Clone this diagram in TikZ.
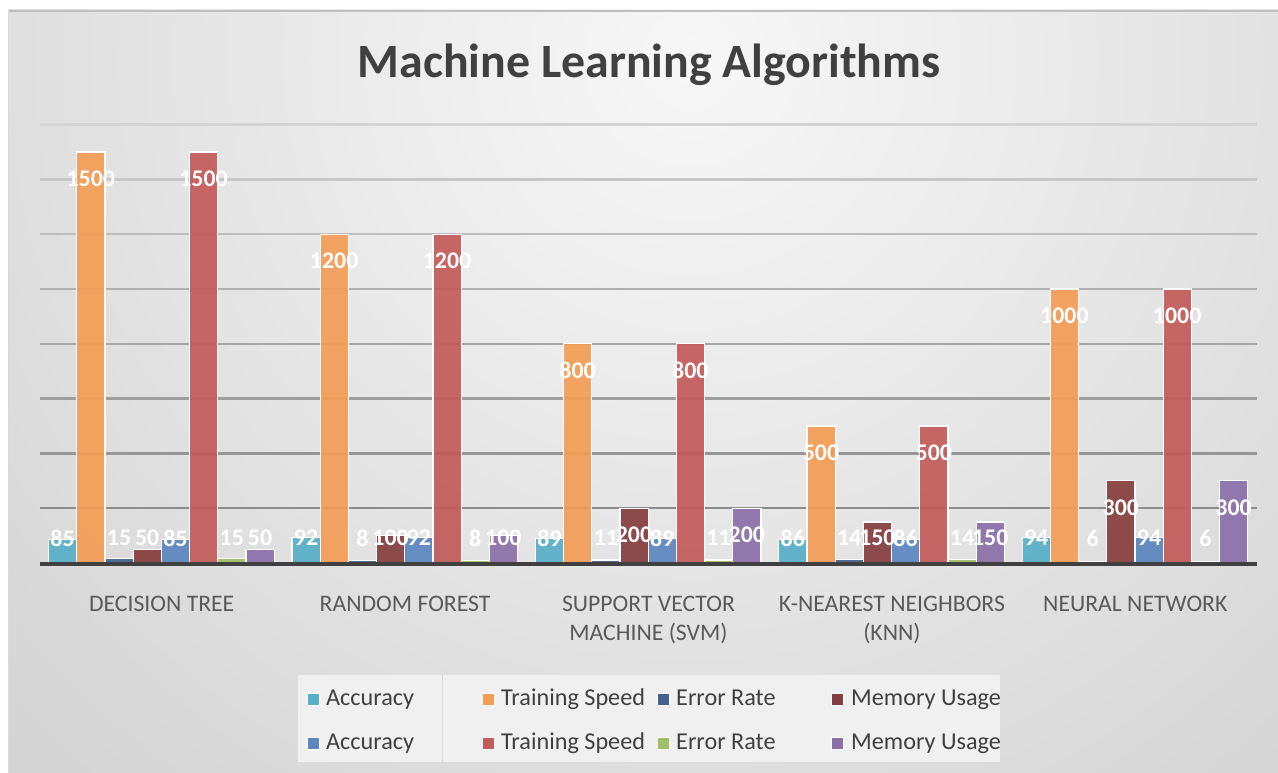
\documentclass[tikz,border=0pt]{standalone}
\usepackage{fontspec}
\setmainfont{Carlito}
\definecolor{cAcc}{HTML}{57AFC8}
\definecolor{cTrain}{HTML}{F49C55}
\definecolor{cErr}{HTML}{45628C}
\definecolor{cMem}{HTML}{853E3D}
\definecolor{cAccB}{HTML}{5B86BF}
\definecolor{cTrainB}{HTML}{C35B59}
\definecolor{cErrB}{HTML}{A1BF66}
\definecolor{cMemB}{HTML}{8A6FA9}
\definecolor{txt}{HTML}{404040}
\definecolor{cattxt}{HTML}{595959}
\tikzset{
  lbl/.style={text=white, font=\fontsize{24}{24}\bfseries\selectfont, inner sep=0pt},
  cat/.style={text=cattxt, font=\fontsize{23.8}{29}\selectfont, inner sep=0pt, anchor=base, align=center},
  legtxt/.style={text=txt, font=\fontsize{24.3}{24}\selectfont, inner sep=0pt, anchor=base west},
  legbox/.style={draw=white, line width=0.8bp, minimum size=12bp, inner sep=0pt},
  barbox/.style={draw=white, line width=1.2bp, fill opacity=0.92},
}
\begin{document}
\begin{tikzpicture}[x=1bp,y=-1bp]
\useasboundingbox (0,0) rectangle (1278,773);
\fill[white] (0,0) rectangle (1278,773);
% chart area background
\begin{scope}
  \clip (8,10) rectangle (1278,773);
  \shade[inner color=white!97!black, outer color=white!77!black] (690,60) circle (1400);
\end{scope}
\draw[white!75!black, line width=2.5bp] (8,11.2) -- (1278,11.2);
\draw[white!85!black, line width=1bp] (8.5,10) -- (8.5,773);
% title
\node[text=txt, font=\fontsize{48}{48}\bfseries\selectfont, inner sep=0pt, anchor=base] (title) at (649,78) {Machine Learning Algorithms};
% gridlines
\def\base{563}
\def\sc{0.274}
\foreach \v/\c in {1600/83,1400/78,1200/74,1000/69,800/65,600/62,400/59,200/55} {
  \pgfmathsetmacro\gy{\base-\v*\sc}
  \draw[white!\c!black, line width=2.5bp] (40,\gy) -- (1257,\gy);
}
% bars
\foreach \a/\t/\e/\m [count=\gi from 0] in {85/1500/15/50, 92/1200/8/100, 89/800/11/200, 86/500/14/150, 94/1000/6/300} {
  \foreach \v/\col [count=\i from 0] in {\a/cAcc,\t/cTrain,\e/cErr,\m/cMem,\a/cAccB,\t/cTrainB,\e/cErrB,\m/cMemB} {
    \pgfmathsetmacro\xl{48.5+243.4*\gi+28.2*\i}
    \pgfmathsetmacro\h{\v*\sc}
    \fill[\col, barbox] (\xl,\base) rectangle ++(28.2,-\h);
  }
}
% baseline axis
\draw[white!25!black, line width=4bp] (40,\base+1) -- (1257,\base+1);
% data labels
\foreach \a/\t/\e/\m [count=\gi from 0] in {85/1500/15/50, 92/1200/8/100, 89/800/11/200, 86/500/14/150, 94/1000/6/300} {
  \foreach \v [count=\i from 0] in {\a,\t,\e,\m,\a,\t,\e,\m} {
    \pgfmathsetmacro\xc{48.5+243.4*\gi+28.2*\i+14.1}
    \pgfmathsetmacro\ly{max(\v*\sc-27,25)}
    \node[lbl] (lab-\gi-\i) at (\xc,\base-\ly) {\v};
  }
}
% category labels
\node[cat] (c1) at (161.7,611) {DECISION TREE};
\node[cat] (c2) at (405.1,611) {RANDOM FOREST};
\node[cat] (c3) at (648.5,640) {SUPPORT VECTOR\\MACHINE (SVM)};
\node[cat] (c4) at (891.9,640) {K-NEAREST NEIGHBORS\\(KNN)};
\node[cat] (c5) at (1135.3,611) {NEURAL NETWORK};
% legend
\fill[white!94!black] (298,675) rectangle (1000,762);
\draw[white!85!black, line width=0.8bp] (442,675) -- (442,762);
\node[legbox, fill=cAcc] (m1) at (313.5,699) {};
\node[legtxt] (t1) at (326,705) {Accuracy};
\node[legbox, fill=cTrain] (m2) at (488.5,699) {};
\node[legtxt] (t2) at (501,705) {Training Speed};
\node[legbox, fill=cErr] (m3) at (663.5,699) {};
\node[legtxt] (t3) at (676,705) {Error Rate};
\node[legbox, fill=cMem] (m4) at (837.5,699) {};
\node[legtxt] (t4) at (851,705) {Memory Usage};
\node[legbox, fill=cAccB] (m5) at (313.5,743.5) {};
\node[legtxt] (t5) at (326,749.5) {Accuracy};
\node[legbox, fill=cTrainB] (m6) at (488.5,743.5) {};
\node[legtxt] (t6) at (501,749.5) {Training Speed};
\node[legbox, fill=cErrB] (m7) at (663.5,743.5) {};
\node[legtxt] (t7) at (676,749.5) {Error Rate};
\node[legbox, fill=cMemB] (m8) at (837.5,743.5) {};
\node[legtxt] (t8) at (851,749.5) {Memory Usage};
\end{tikzpicture}
\end{document}
